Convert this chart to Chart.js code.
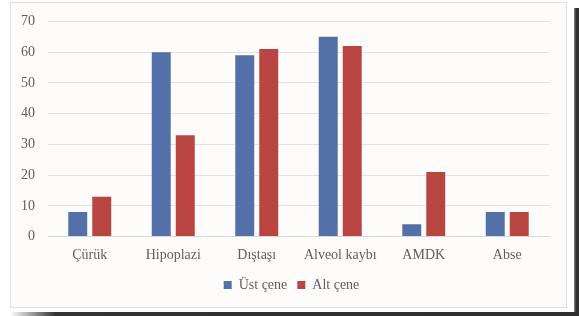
<!DOCTYPE html>
<html><head><meta charset="utf-8">
<script src="https://cdn.jsdelivr.net/npm/chart.js@4/dist/chart.umd.min.js"></script>
<style>
html,body{margin:0;padding:0;background:#ffffff;width:579px;height:316px;overflow:hidden;}
#frame{position:absolute;left:10px;top:2px;width:555px;height:304px;border:1px solid #e3dddc;background:#fdfcfb;}
#shR{position:absolute;left:574px;top:8px;width:5px;height:308px;background:linear-gradient(to right,#888,#333 40%,#2e2e2e);}
#shB{position:absolute;left:10px;top:312px;width:569px;height:4px;background:linear-gradient(to right,#fff,#333 8%,#2e2e2e);}
#wrap{position:absolute;left:0;top:0;width:579px;height:316px;}
</style></head>
<body>
<div id="shR"></div><div id="shB"></div>
<div id="frame"></div>
<div id="wrap"><canvas id="c" width="579" height="316"></canvas></div>
<script>
const categories = ["Çürük", "Hipoplazi", "Dıştaşı", "Alveol kaybı", "AMDK", "Abse"];
const ustCene = [8, 60, 59, 65, 4, 8];
const altCene = [13, 33, 61, 62, 21, 8];
const seriesNames = ["Üst çene", "Alt çene"];
const yTicks = [0, 10, 20, 30, 40, 50, 60, 70];

Chart.defaults.font.family = "'Liberation Serif', serif";
Chart.defaults.font.size = 14;
Chart.defaults.color = '#5f5f5f';

const shiftLegend = {
  id: 'shiftLegend',
  afterLayout(chart) { if (chart.legend) { chart.legend.left += 34; } }
};

new Chart(document.getElementById('c'), {
  type: 'bar',
  data: {
    labels: categories,
    datasets: [
      {label: seriesNames[0], data: ustCene, backgroundColor: '#5470a8', categoryPercentage: 0.575, barPercentage: 0.79},
      {label: seriesNames[1], data: altCene, backgroundColor: '#b94542', categoryPercentage: 0.575, barPercentage: 0.79}
    ]
  },
  plugins: [shiftLegend],
  options: {
    responsive: false,
    animation: false,
    layout: {padding: {left: 0, right: 30, top: 20, bottom: 14}},
    plugins: {
      tooltip: {enabled: false},
      legend: {
        position: 'bottom',
        labels: {boxWidth: 8, boxHeight: 8, color: '#5f5f5f', padding: 10,
                 font: {family: "'Liberation Serif', serif", size: 14}}
      }
    },
    scales: {
      x: {
        grid: {display: false, drawTicks: false},
        border: {color: '#dcd7d6', width: 1},
        ticks: {color: '#5f5f5f', padding: 10, maxRotation: 0},
        afterFit: s => { s.height = 31.4; }
      },
      y: {
        min: 0, max: 70,
        afterBuildTicks: s => { s.ticks = yTicks.map(v => ({value: v})); },
        grid: {color: '#e6dfdf', lineWidth: 1, drawTicks: false},
        border: {display: false},
        ticks: {color: '#5f5f5f', padding: 13},
        afterFit: s => { s.width = 48; }
      }
    }
  }
});
</script>
</body></html>
